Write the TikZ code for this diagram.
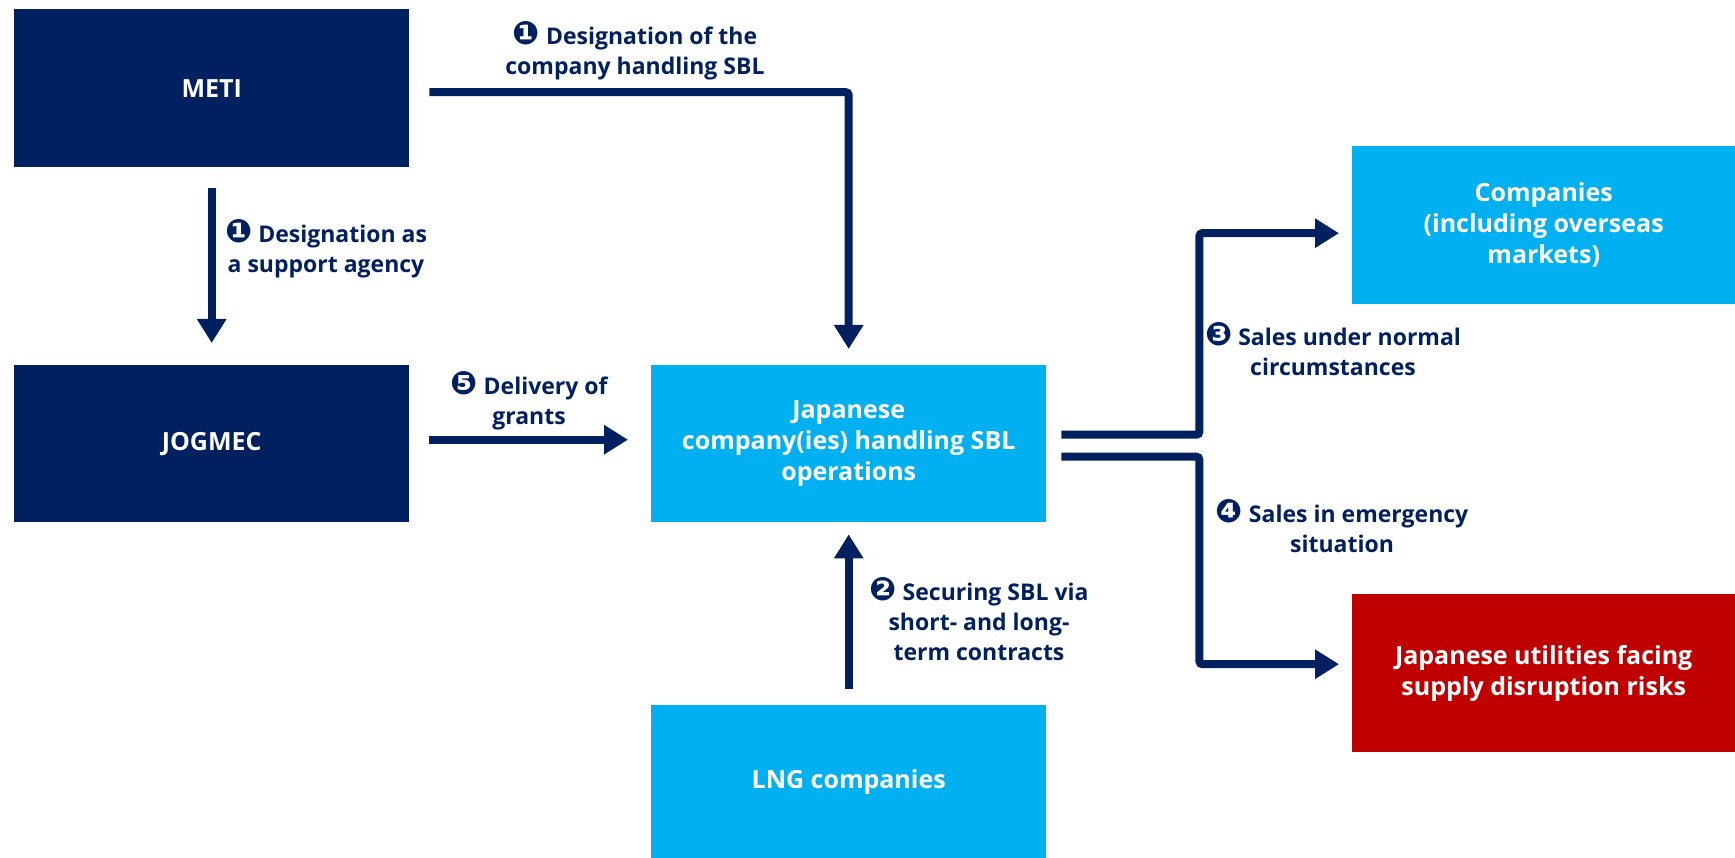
\documentclass[tikz,border=0pt]{standalone}
\usepackage{fontspec}
\setmainfont{Open Sans}
\newfontfamily\dingfont{DejaVu Sans}[Scale=1.4]
\usetikzlibrary{arrows.meta}
\definecolor{navy}{HTML}{002060}
\definecolor{lblue}{HTML}{00B0F0}
\definecolor{dred}{HTML}{C00000}
\newcommand\cnum[1]{\raisebox{-0.5pt}{\dingfont #1}}
\begin{document}
\begin{tikzpicture}[x=1pt,y=-1pt,
  box/.style={draw=none, inner sep=0pt, text=white, anchor=north west,
    font=\bfseries\fontsize{25}{31}\selectfont, align=center,
    minimum width=#1},
  box/.default=395pt,
  lbl/.style={text=navy, font=\bfseries\fontsize{23}{30}\selectfont, align=center, inner sep=0pt},
  conn/.style={draw=navy, line width=8pt, rounded corners=3pt, -{Triangle[width=28pt,length=24pt]}}
]
\useasboundingbox (0,0) rectangle (1735,858);
\node[box, fill=navy, minimum height=158pt] (meti) at (14,9) {METI};
\node[box, fill=navy, minimum height=157pt] (jog) at (14,365) {JOGMEC};
\node[box, fill=lblue, minimum height=157pt] (jap) at (651,365) {Japanese\\company(ies) handling SBL\\operations};
\node[box, fill=lblue, minimum height=153pt] (lng) at (651,705) {LNG companies};
\node[box=383pt, fill=lblue, minimum height=158pt] (comp) at (1352,146) {Companies\\(including overseas\\markets)};
\node[box=383pt, fill=dred, minimum height=158pt] (util) at (1352,594) {Japanese utilities facing\\supply disruption risks};

\node[lbl] (l1) at (635,51) {\cnum{❶} Designation of the\\company handling SBL};
\node[lbl] (l2) at (326,249) {\cnum{❶} Designation as\\a support agency};
\node[lbl] (l5) at (529,401) {\cnum{❺} Delivery of\\grants};
\node[lbl] (l2b) at (979,619) {\cnum{❷} Securing SBL via\\short- and long-\\term contracts};
\node[lbl] (l3) at (1333,349) {\cnum{❸} Sales under normal\\circumstances};
\node[lbl] (l4) at (1342,526) {\cnum{❹} Sales in emergency\\situation};

\draw[conn] ([shift={(20,4)}]meti.east) -| ([shift={(0,-16)}]jap.north);
\draw[conn] ([shift={(0,21)}]meti.south) -- ([shift={(0,-22)}]jog.north);
\draw[conn] ([shift={(20,-4)}]jog.east) -- ([shift={(-23,-4)}]jap.west);
\draw[conn] ([shift={(0,-16)}]lng.north) -- ([shift={(0,12)}]jap.south);
\draw[conn] ([shift={(15,-9)}]jap.east) -- ++(138,0) |- ([shift={(-13,8)}]comp.west);
\draw[conn] ([shift={(15,13)}]jap.east) -- ++(138,0) |- ([shift={(-13,-9)}]util.west);
\end{tikzpicture}
\end{document}
